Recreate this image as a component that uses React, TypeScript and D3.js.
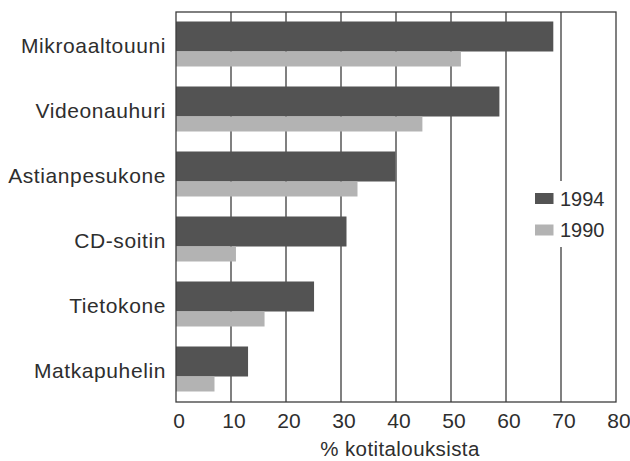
import React from "react";
import * as d3 from "d3";

const categories = ["Mikroaaltouuni", "Videonauhuri", "Astianpesukone", "CD-soitin", "Tietokone", "Matkapuhelin"];
const values1994 = [68.6, 58.8, 39.9, 31.0, 25.1, 13.1];
const values1990 = [51.8, 44.8, 33.0, 10.9, 16.1, 7.0];
const xTicks = [0, 10, 20, 30, 40, 50, 60, 70, 80];
const seriesNames = ["1994", "1990"];
const xTitle = "% kotitalouksista";

const W = 630;
const H = 461;
const left = 176, right = 616, top = 12, bottom = 402;
const dark = "#535353";
const light = "#b3b3b3";
const ink = "#2e2e2e";
const gridCol = "#3c3c3c";
const font = "'Liberation Sans', Arial, Helvetica, sans-serif";

export default function App() {
  const x = d3.scaleLinear().domain([0, 80]).range([left, right]);
  const y = d3.scaleBand<string>().domain(categories).range([top, bottom]).padding(0);
  const bw = y.bandwidth();
  const off1 = (9.5 / 65) * bw;
  const h1 = (30 / 65) * bw;
  const h2 = (15 / 65) * bw;

  return (
    <div style={{ position: "fixed", left: 0, top: 0 }}>
      <svg width={W} height={H} style={{ display: "block", background: "#fff" }}>
        {/* gridlines */}
        {xTicks.slice(1, -1).map((t) => (
          <line key={t} x1={x(t)} x2={x(t)} y1={top} y2={bottom} stroke={gridCol} strokeWidth={1.3} />
        ))}
        {/* bars */}
        {categories.map((c, i) => {
          const y0 = y(c)!;
          return (
            <g key={c}>
              <rect x={x(0)} y={y0 + off1} width={x(values1994[i]) - x(0)} height={h1} fill={dark} />
              <rect x={x(0)} y={y0 + off1 + h1} width={x(values1990[i]) - x(0)} height={h2} fill={light} />
            </g>
          );
        })}
        {/* frame */}
        <rect x={left} y={top} width={right - left} height={bottom - top} fill="none" stroke={gridCol} strokeWidth={1.3} />
        {/* category labels */}
        {categories.map((c) => (
          <text
            key={c}
            x={left - 10}
            y={y(c)! + bw / 2 + 8.5}
            textAnchor="end"
            fontFamily={font}
            fontSize={21}
            letterSpacing={0.6}
            fill={ink}
          >
            {c}
          </text>
        ))}
        {/* x tick labels */}
        {xTicks.map((t) => (
          <text key={t} x={x(t) + 3} y={428} textAnchor="middle" fontFamily={font} fontSize={21} fill={ink}>
            {t}
          </text>
        ))}
        <text x={(left + right) / 2 + 4} y={456} textAnchor="middle" fontFamily={font} fontSize={20.5} letterSpacing={0.4} fill={ink}>
          {xTitle}
        </text>
        {/* legend */}
        <rect x={522} y={181} width={90} height={66} fill="#fff" />
        {seriesNames.map((s, i) => (
          <g key={s} transform={`translate(0, ${i * 31.5})`}>
            <rect x={535} y={193} width={18.5} height={11} fill={i === 0 ? dark : light} />
            <text x={560} y={205.5} fontFamily={font} fontSize={20} fill={ink}>
              {s}
            </text>
          </g>
        ))}
      </svg>
    </div>
  );
}
